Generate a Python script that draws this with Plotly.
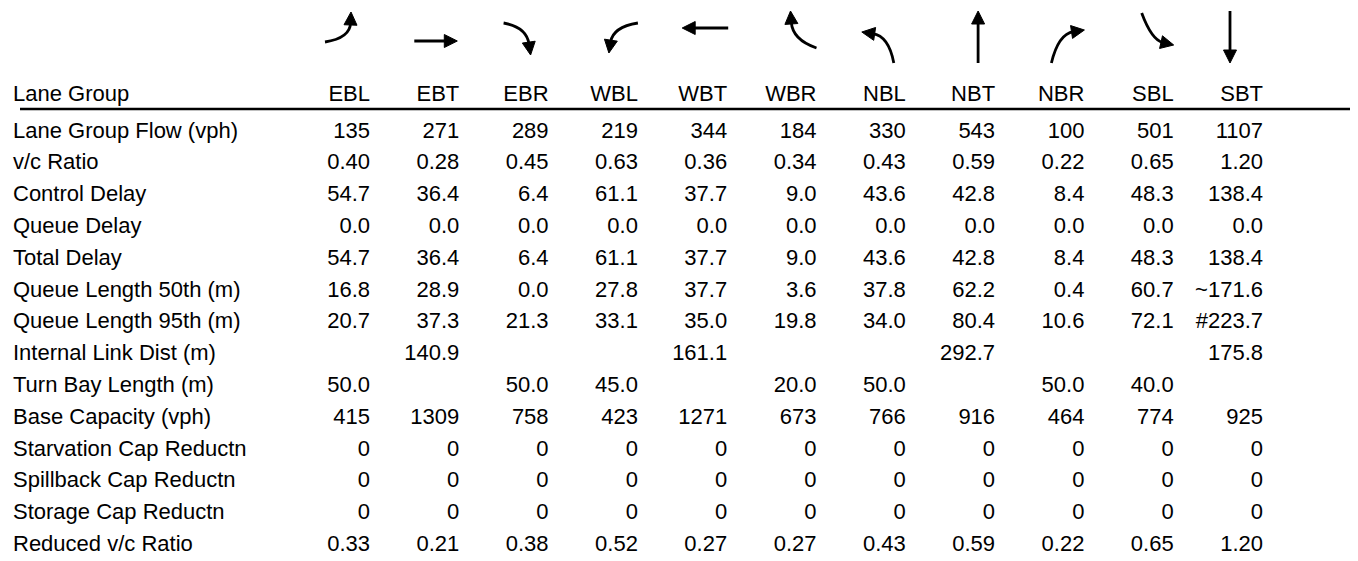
import math
import plotly.graph_objects as go

# ---------------- data ----------------
lane_groups = ["EBL", "EBT", "EBR", "WBL", "WBT", "WBR", "NBL", "NBT", "NBR", "SBL", "SBT"]
header_label = "Lane Group"
row_labels = [
    "Lane Group Flow (vph)", "v/c Ratio", "Control Delay", "Queue Delay", "Total Delay",
    "Queue Length 50th (m)", "Queue Length 95th (m)", "Internal Link Dist (m)",
    "Turn Bay Length (m)", "Base Capacity (vph)", "Starvation Cap Reductn",
    "Spillback Cap Reductn", "Storage Cap Reductn", "Reduced v/c Ratio",
]
lane_group_flow = ["135", "271", "289", "219", "344", "184", "330", "543", "100", "501", "1107"]
vc_ratio = ["0.40", "0.28", "0.45", "0.63", "0.36", "0.34", "0.43", "0.59", "0.22", "0.65", "1.20"]
control_delay = ["54.7", "36.4", "6.4", "61.1", "37.7", "9.0", "43.6", "42.8", "8.4", "48.3", "138.4"]
queue_delay = ["0.0"] * 11
total_delay = ["54.7", "36.4", "6.4", "61.1", "37.7", "9.0", "43.6", "42.8", "8.4", "48.3", "138.4"]
queue_50th = ["16.8", "28.9", "0.0", "27.8", "37.7", "3.6", "37.8", "62.2", "0.4", "60.7", "~171.6"]
queue_95th = ["20.7", "37.3", "21.3", "33.1", "35.0", "19.8", "34.0", "80.4", "10.6", "72.1", "#223.7"]
internal_link = ["", "140.9", "", "", "161.1", "", "", "292.7", "", "", "175.8"]
turn_bay = ["50.0", "", "50.0", "45.0", "", "20.0", "50.0", "", "50.0", "40.0", ""]
base_capacity = ["415", "1309", "758", "423", "1271", "673", "766", "916", "464", "774", "925"]
starvation = ["0"] * 11
spillback = ["0"] * 11
storage = ["0"] * 11
reduced_vc = ["0.33", "0.21", "0.38", "0.52", "0.27", "0.27", "0.43", "0.59", "0.22", "0.65", "1.20"]

rows = [lane_group_flow, vc_ratio, control_delay, queue_delay, total_delay, queue_50th,
        queue_95th, internal_link, turn_bay, base_capacity, starvation, spillback,
        storage, reduced_vc]

# ---------------- layout constants ----------------
W, H = 1358, 561
OFF = 8  # page body margin
FONT = dict(family="Liberation Sans, Arial, sans-serif", size=22, color="#000000")
COL0, COLSTEP = 370, 89.3
LABEL_X = 13
HEADER_Y = 95.5
ROW0, ROWSTEP = 132, 31.8
col_x = [COL0 + COLSTEP * i for i in range(len(lane_groups))]
row_y = [ROW0 + ROWSTEP * i for i in range(len(row_labels))]

fig = go.Figure()

fig.add_trace(go.Scatter(x=[LABEL_X], y=[HEADER_Y], mode="text", text=[header_label],
                         textposition="middle right", textfont=FONT, hoverinfo="skip"))
fig.add_trace(go.Scatter(x=col_x, y=[HEADER_Y] * len(col_x), mode="text", text=lane_groups,
                         textposition="middle left", textfont=FONT, hoverinfo="skip"))
fig.add_trace(go.Scatter(x=[LABEL_X] * len(row_labels), y=row_y, mode="text", text=row_labels,
                         textposition="middle right", textfont=FONT, hoverinfo="skip"))
for j, lg in enumerate(lane_groups):
    fig.add_trace(go.Scatter(x=[col_x[j]] * len(rows), y=row_y, mode="text",
                             text=[r[j] for r in rows], textposition="middle left",
                             textfont=FONT, hoverinfo="skip", name=lg))

shapes = [dict(type="line", xref="paper", yref="y", x0=12 / W, x1=1, y0=109, y1=109,
               line=dict(color="black", width=2.5))]

# movement arrow glyph templates: (tail, control, tip) relative to column right edge (x), absolute y
glyphs = {
    "EBL": ((-45, 42), (-20, 38), (-19, 12)),
    "EBT": ((-45, 41), (-20, 41), (-2, 41)),
    "EBR": ((-45, 23), (-22, 27), (-18, 55)),
    "WBL": ((0, 23), (-25, 27), (-29, 53)),
    "WBT": ((1, 28), (-20, 28), (-45, 28)),
    "WBR": ((0, 48), (-24, 40), (-26, 11)),
    "NBL": ((-12, 63), (-17, 36), (-44, 32)),
    "NBT": ((-17, 63), (-17, 40), (-17, 11)),
    "NBR": ((-33, 63), (-26, 34), (0, 30)),
    "SBL": ((-32, 13), (-22, 40), (0, 45)),
    "SBT": ((-33, 11), (-33, 40), (-33, 63)),
}
HEAD_L, HEAD_W = 13, 6.5
for j, lg in enumerate(lane_groups):
    (tx, ty), (cx, cy), (px, py) = glyphs[lg]
    bx = col_x[j]
    tx, cx, px = tx + bx, cx + bx, px + bx
    dx, dy = px - cx, py - cy
    n = math.hypot(dx, dy)
    ux, uy = dx / n, dy / n
    basex, basey = px - HEAD_L * ux, py - HEAD_L * uy
    shapes.append(dict(type="path", xref="x", yref="y",
                       path=f"M {tx},{ty} Q {cx},{cy} {basex + 2*ux},{basey + 2*uy}",
                       line=dict(color="black", width=2.8)))
    lx, ly = basex - HEAD_W * uy, basey + HEAD_W * ux
    rx, ry = basex + HEAD_W * uy, basey - HEAD_W * ux
    shapes.append(dict(type="path", xref="x", yref="y",
                       path=f"M {px},{py} L {lx},{ly} L {rx},{ry} Z",
                       fillcolor="black", line=dict(color="black", width=1)))

fig.update_layout(
    width=W, height=H, margin=dict(l=0, r=0, t=0, b=0),
    paper_bgcolor="white", plot_bgcolor="white", showlegend=False,
    xaxis=dict(range=[OFF, W + OFF], visible=False, fixedrange=True),
    yaxis=dict(range=[H + OFF, OFF], visible=False, fixedrange=True),
    shapes=shapes,
)
fig.write_html("out.html", config={"displayModeBar": False})
